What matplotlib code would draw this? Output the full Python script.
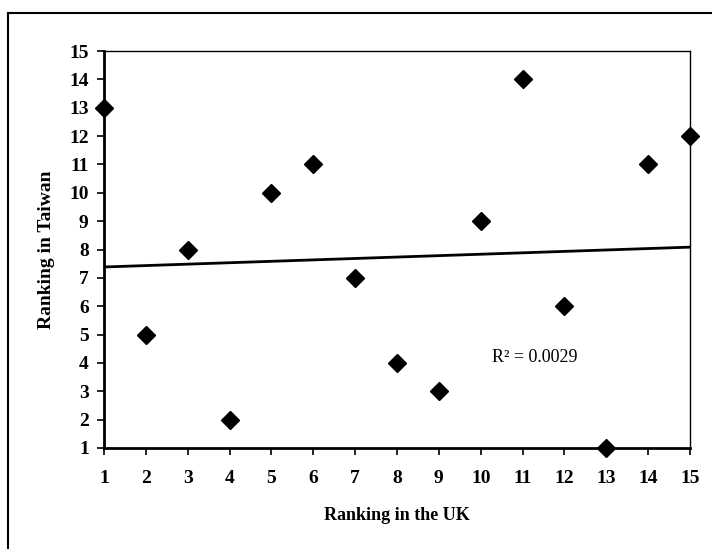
import numpy as np
import matplotlib
matplotlib.use("Agg")
import matplotlib.pyplot as plt
from matplotlib.lines import Line2D

# ranks
uk_rank = [1, 2, 3, 4, 5, 6, 7, 8, 9, 10, 11, 12, 13, 14, 15]
taiwan_rank = [13, 5, 8, 2, 10, 11, 7, 4, 3, 9, 14, 6, 1, 11, 12]
tick_vals = list(range(1, 16))

plt.rcParams['font.family'] = ['Liberation Serif', 'DejaVu Serif']

fig = plt.figure(figsize=(7.12, 5.49), dpi=100)
ax = fig.add_axes([104/712, 1 - 448/549, (690 - 104)/712, (448 - 51)/549])

x = np.array(uk_rank)
y = np.array(taiwan_rank)
ax.plot(x, y, 'D', color='black', markersize=9, clip_on=False, zorder=3)

# linear trend line
slope, icpt = np.polyfit(x, y, 1)
r2 = np.corrcoef(x, y)[0, 1] ** 2
ax.plot([1, 15], [slope*1 + icpt, slope*15 + icpt], color='black', lw=2)
ax.text(11.3, 4.2, "R\u00b2 = %.4f" % r2, fontsize=13, va='center', ha='center')

ax.set_xlim(1, 15)
ax.set_ylim(1, 15)
ax.set_xticks(tick_vals)
ax.set_yticks(tick_vals)
ax.tick_params(direction='out', length=5, width=1.2, labelsize=14)
ax.tick_params(axis='x', pad=11)
ax.tick_params(axis='y', pad=6)
for lab in ax.get_xticklabels() + ax.get_yticklabels():
    lab.set_fontweight('bold')

for s in ['left', 'bottom']:
    ax.spines[s].set_linewidth(2)
for s in ['top', 'right']:
    ax.spines[s].set_linewidth(1)

ax.set_xlabel("Ranking in the UK", fontsize=13, fontweight='bold', labelpad=14)
ax.set_ylabel("Ranking in Taiwan", fontsize=14, fontweight='bold', labelpad=10)

# outer chart border (only top and left visible in the scan)
fig.add_artist(Line2D([8/712, 1], [1 - 13/549, 1 - 13/549], color='black', lw=1.5))
fig.add_artist(Line2D([8/712, 8/712], [0, 1 - 13/549], color='black', lw=1.5))

fig.savefig("out.png", dpi=100)
